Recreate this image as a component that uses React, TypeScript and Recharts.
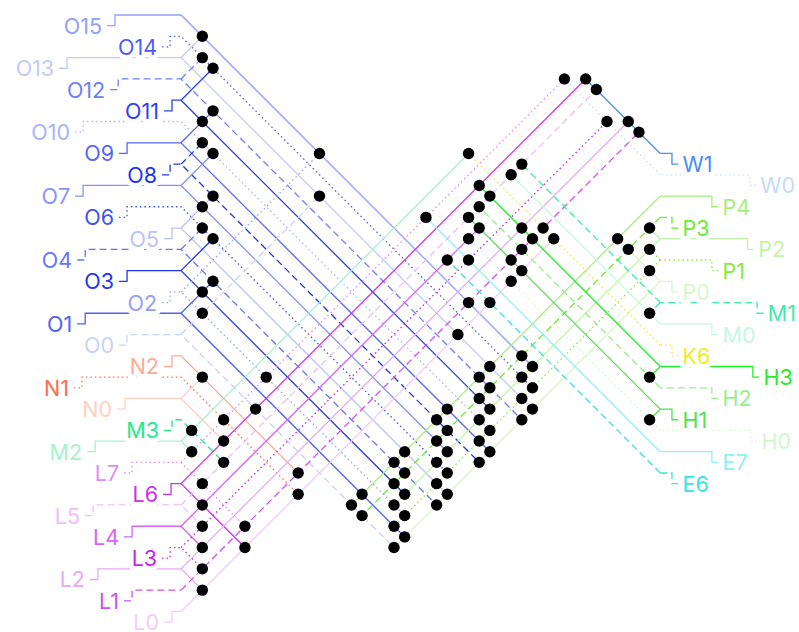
import { ScatterChart, Scatter, XAxis, YAxis } from "recharts";

// grid units: one step = one wire pitch; x=0 is where left wires turn, x=45 where right wires turn
const X_DOMAIN: [number, number] = [-17, 58.03];
const Y_DOMAIN: [number, number] = [-1.41, 57.93];

const LEFT_LABELS = ["O15", "O14", "O13", "O12", "O11", "O10", "O9", "O8", "O7", "O6", "O5", "O4", "O3", "O2", "O1", "O0", "N2", "N1", "N0", "M3", "M2", "L7", "L6", "L5", "L4", "L3", "L2", "L1", "L0"];
const LEFT_ROWS = [0, 2, 4, 6, 8, 10, 12, 14, 16, 18, 20, 22, 24, 26, 28, 30, 32, 34, 36, 38, 40, 42, 44, 46, 48, 50, 52, 54, 56];
const LEFT_JOG = [-6.2, -1.03, -10.7, -5.9, -0.85, -9.2, -5.07, -1.03, -9.2, -5.07, -0.85, -9.0, -5.07, -1.03, -9.0, -5.07, -0.85, -9.3, -5.26, -0.85, -8.07, -4.6, -0.94, -8.26, -4.6, -1.03, -7.8, -4.6, -0.85];
// column where the rising / falling diagonal stops (null = none)
const LEFT_UP = [null, null, 2, 2, 3, null, 3, 2, 3, null, 3, 2, 3, 13, 3, 13, null, null, 2, null, 27, 36, 38, 39, 28, 40, 42, 43, 35];
const LEFT_DOWN = [33, 33, 33, 32, 29, 29, 29, 28, 25, 25, 25, 24, 21, 21, 21, 20, 11, 11, 4, 4, 1, 6, 6, 2, 2, 2, 2, null, null];
const LEFT_STYLE = ["solid", "dotted", "solid", "dashed", "solid", "dotted", "solid", "dashed", "solid", "dotted", "solid", "dashed", "solid", "dotted", "solid", "dashed", "solid", "dotted", "solid", "dashed", "solid", "dotted", "solid", "dashed", "solid", "dotted", "solid", "dashed", "solid"];
const LEFT_COLORS = ["#93a0f7", "#4c5ef2", "#c3cafa", "#7080f2", "#2b41f0", "#a9b3f7", "#5667f2", "#1e36ee", "#8794f5", "#3f52f0", "#bac3f8", "#6676f2", "#2136ee", "#94a0f5", "#4f62f0", "#cbd2fa", "#ffaa95", "#ff6e4a", "#ffd0c2", "#25e88a", "#a5f2cc", "#dd8cf7", "#cc2eee", "#edbef9", "#d766f2", "#c81eee", "#e6aaf8", "#d052f0", "#f1cdfa"];

const RIGHT_LABELS = ["W1", "W0", "P4", "P3", "P2", "P1", "P0", "M1", "M0", "K6", "H3", "H2", "H1", "H0", "E7", "E6"];
const RIGHT_ROWS = [13, 15, 17, 19, 21, 23, 25, 27, 29, 31, 33, 35, 37, 39, 41, 43];
const RIGHT_JOG = [46.1, 53.4, 49.85, 46.1, 53.2, 49.85, 46.1, 54.1, 49.85, 46.1, 53.7, 49.85, 46.1, 53.5, 49.85, 46.1];
const RIGHT_UP = [38, 36, null, null, 44, 44, 41, 32, 31, 27, 28, 28, 27, 27, 23, 25];
const RIGHT_DOWN = [null, null, 16, 17, 20, 20, 20, 44, null, null, 44, null, 44, null, null, null];
const RIGHT_STYLE = ["solid", "dotted", "solid", "dashed", "solid", "dotted", "solid", "dashed", "solid", "dotted", "solid", "dashed", "solid", "dotted", "solid", "dashed"];
const RIGHT_COLORS = ["#4a8eee", "#c5daf8", "#a5ee7a", "#6cec30", "#c2f3a8", "#86ea40", "#daf7c8", "#40eca8", "#c6f7e2", "#eeee20", "#22ee2a", "#98ee88", "#52e050", "#d2f7cc", "#8af2f0", "#2eead8"];

// junction dots [col, row]
const DOTS: [number, number][] = [
  [2, 2], [2, 4], [3, 5], [3, 9], [2, 10], [2, 12], [3, 13], [3, 17], [2, 18], [2, 20], [3, 21], [3, 25], [2, 26], [2, 28],
  [2, 34], [4, 38], [1, 39], [4, 40], [1, 41], [4, 42], [2, 44], [2, 46], [2, 48], [6, 48], [2, 50], [6, 50], [2, 52], [2, 54],
  [13, 13], [13, 17], [27, 13], [32, 14], [31, 15], [28, 16], [29, 17], [28, 18], [27, 19], [23, 19], [32, 20], [34, 20],
  [28, 20], [33, 21], [35, 21], [27, 21], [32, 22], [31, 23], [25, 23], [27, 23], [32, 24], [31, 25], [27, 27], [29, 27], [26, 30],
  [36, 6], [38, 6], [39, 7], [40, 10], [42, 10], [43, 11], [44, 20], [41, 21], [42, 22], [44, 22], [44, 24], [44, 28], [44, 34], [44, 38],
  [32, 32], [33, 33], [29, 33], [28, 34], [32, 34], [29, 35], [33, 35], [28, 36], [32, 36], [25, 37], [29, 37], [33, 37],
  [24, 38], [28, 38], [32, 38], [25, 39], [29, 39], [24, 40], [28, 40], [21, 41], [25, 41], [29, 41], [20, 42], [24, 42], [28, 42],
  [21, 43], [25, 43], [11, 43], [20, 44], [24, 44], [21, 45], [25, 45], [11, 45], [17, 45], [16, 46], [20, 46], [24, 46],
  [17, 47], [21, 47], [20, 48], [21, 49], [20, 50], [8, 34], [7, 37],
];

const DASH: Record<string, string | undefined> = { solid: undefined, dashed: "7 4", dotted: "1.5 3" };
const FONT = "Inter, 'Noto Sans', sans-serif";

type Pt = { x: number; y: number };
type Wire = { key: string; color: string; dash?: string; points: Pt[] };

function buildWires(): Wire[] {
  const wires: Wire[] = [];
  LEFT_LABELS.forEach((name, i) => {
    const r = LEFT_ROWS[i];
    const j = LEFT_JOG[i];
    const color = LEFT_COLORS[i];
    const dash = DASH[LEFT_STYLE[i]];
    const main: Pt[] = [
      { x: j - 0.75, y: r + 1 },
      { x: j, y: r + 1 },
      { x: j, y: r },
      { x: 0, y: r },
    ];
    const down = LEFT_DOWN[i];
    if (down != null) main.push({ x: down, y: r + down });
    wires.push({ key: `l-${name}`, color, dash, points: main });
    const up = LEFT_UP[i];
    if (up != null) wires.push({ key: `lu-${name}`, color, dash, points: [{ x: 0, y: r }, { x: up, y: r - up }] });
  });
  RIGHT_LABELS.forEach((name, i) => {
    const r = RIGHT_ROWS[i];
    const j = RIGHT_JOG[i];
    const color = RIGHT_COLORS[i];
    const dash = DASH[RIGHT_STYLE[i]];
    wires.push({
      key: `r-${name}`,
      color,
      dash,
      points: [
        { x: j + 0.6, y: r + 1 },
        { x: j, y: r + 1 },
        { x: j, y: r },
        { x: 45, y: r },
      ],
    });
    const up = RIGHT_UP[i];
    if (up != null) wires.push({ key: `ru-${name}`, color, dash, points: [{ x: 45, y: r }, { x: up, y: r - (45 - up) }] });
    const down = RIGHT_DOWN[i];
    if (down != null) wires.push({ key: `rd-${name}`, color, dash, points: [{ x: 45, y: r }, { x: down, y: r + (45 - down) }] });
  });
  return wires;
}

const leftLabelData = LEFT_LABELS.map((name, i) => ({ x: LEFT_JOG[i] - 1.22, y: LEFT_ROWS[i] + 1, name, color: LEFT_COLORS[i] }));
const rightLabelData = RIGHT_LABELS.map((name, i) => ({ x: RIGHT_JOG[i] + 1.0, y: RIGHT_ROWS[i] + 1, name, color: RIGHT_COLORS[i] }));
const dotData = DOTS.map(([x, y]) => ({ x, y }));

const noShape = () => <g />;

function labelShape(anchor: "start" | "end") {
  return (p: any) => (
    <text
      x={p.cx}
      y={p.cy}
      textAnchor={anchor}
      dominantBaseline="central"
      fontFamily={FONT}
      fontSize={21.5}
      fill={p.payload.color}
      stroke="#ffffff"
      strokeWidth={9}
      strokeLinejoin="round"
      paintOrder="stroke"
    >
      {p.payload.name}
    </text>
  );
}

const dotShape = (p: any) => <circle cx={p.cx} cy={p.cy} r={5.7} fill="#000000" />;

export default function App() {
  const wires = buildWires();
  return (
    <div style={{ position: "absolute", left: 0, top: 0, width: 799, height: 632, background: "#ffffff" }}>
      <ScatterChart width={799} height={632} margin={{ top: 0, right: 0, bottom: 0, left: 0 }}>
        <XAxis type="number" dataKey="x" domain={X_DOMAIN} allowDataOverflow hide height={0} />
        <YAxis type="number" dataKey="y" domain={Y_DOMAIN} allowDataOverflow reversed hide width={0} />
        {wires.map((w) => (
          <Scatter
            key={w.key}
            data={w.points}
            shape={noShape}
            line={{ stroke: w.color, strokeWidth: 1.3, strokeDasharray: w.dash, fill: "none" }}
            lineType="joint"
            isAnimationActive={false}
          />
        ))}
        <Scatter data={leftLabelData} shape={labelShape("end")} isAnimationActive={false} />
        <Scatter data={rightLabelData} shape={labelShape("start")} isAnimationActive={false} />
        <Scatter data={dotData} shape={dotShape} isAnimationActive={false} />
      </ScatterChart>
    </div>
  );
}
